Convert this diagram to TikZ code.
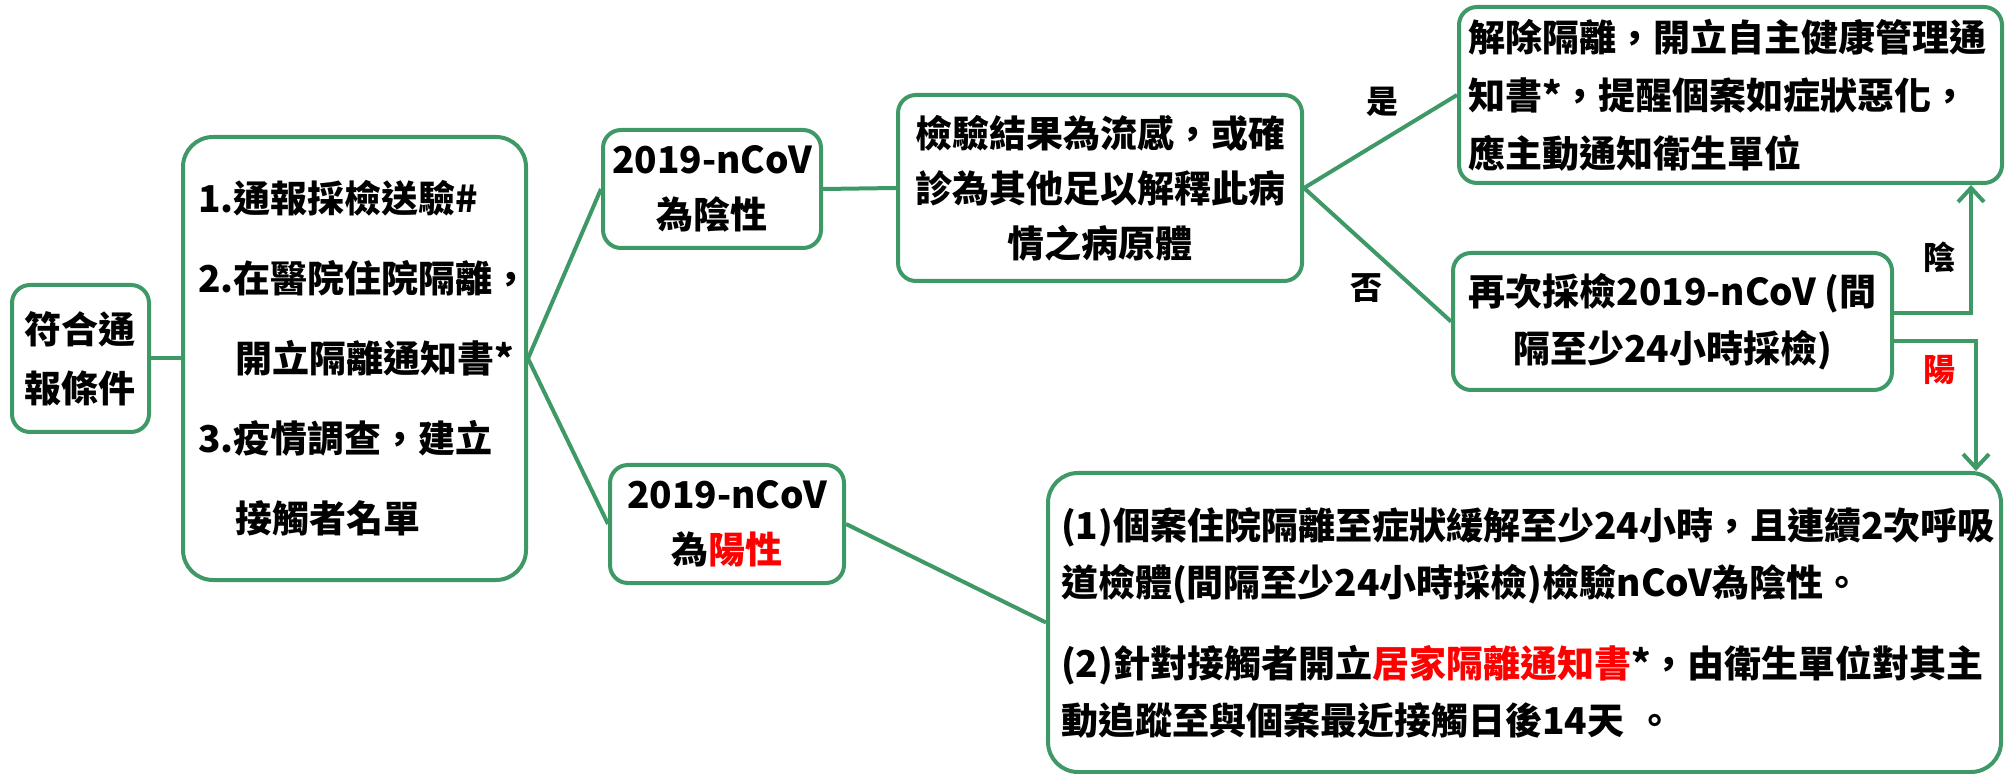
\documentclass[tikz,border=0pt]{standalone}
\usepackage{fontspec}
\setmainfont{Noto Sans CJK TC}
\usetikzlibrary{arrows.meta}
\definecolor{grn}{RGB}{62,153,103}
\definecolor{rd}{RGB}{255,0,0}
\newcommand{\fnt}[1]{\bfseries\fontsize{18.5}{#1}\selectfont}
\begin{document}
\begin{tikzpicture}[x=0.5pt,y=-0.5pt,
  box/.style={draw=grn, line width=2pt, rounded corners=9pt, inner sep=0pt, fill=white},
  conn/.style={draw=grn, line width=2pt},
  arr/.style={conn, -{Straight Barb[length=7pt,width=13pt,line width=2pt]}},
  lbl/.style={font=\bfseries\fontsize{16}{16}\selectfont}]
\useasboundingbox (0,0) rectangle (2011,774);

\node[box, minimum width=68.5pt, minimum height=73.5pt, align=center, font=\fnt{29.5}] (A) at (80.5,358.5) {符合通\\報條件};

\node[box, rounded corners=15pt, minimum height=221.5pt, text width=156.5pt, inner xsep=7.5pt, align=left, font=\fnt{40}] (B) at (354.5,358.5)
 {1.通報採檢送驗\#\\2.在醫院住院隔離，\\\hspace*{1em}開立隔離通知書*\\3.疫情調查，建立\\\hspace*{1em}接觸者名單};

\node[box, minimum width=109pt, minimum height=59pt, align=center, font=\fnt{27.5}] (C) at (712,189) {2019-nCoV\\為陰性};

\node[box, minimum width=117pt, minimum height=59pt, align=center, font=\fnt{27.5}] (D) at (727,524) {2019-nCoV\\為\textcolor{rd}{陽性}};

\node[box, minimum width=202pt, minimum height=93pt, align=center, font=\fnt{27.5}] (E) at (1100,188) {檢驗結果為流感，或確\\診為其他足以解釋此病\\情之病原體};

\node[box, text width=262.5pt, inner xsep=4.5pt, minimum height=88pt, align=left, font=\fnt{29}] (F) at (1730.5,95) {解除隔離，開立自主健康管理通\\知書*，提醒個案如症狀惡化，\\應主動通知衛生單位};

\node[box, minimum width=219.5pt, minimum height=68.5pt, align=center, font=\fnt{28.5}] (G) at (1672.5,321.5) {再次採檢2019-nCoV (間\\隔至少24小時採檢)};

\node[box, rounded corners=15pt, text width=463.5pt, inner xsep=6.5pt, minimum height=149.5pt, align=left, font=\fnt{28.5}] (H) at (1524.5,622.5)
 {(1)個案住院隔離至症狀緩解至少24小時，且連續2次呼吸\\道檢體(間隔至少24小時採檢)檢驗nCoV為陰性。\\[12pt](2)針對接觸者開立\textcolor{rd}{居家隔離通知書}*，由衛生單位對其主\\動追蹤至與個案最近接觸日後14天 。};

\draw[conn] (A) -- (B);
\draw[conn] (B.east) -- (C.west);
\draw[conn] (B.east) -- (D.west);
\draw[conn] (C.east) -- (E.west);
\draw[conn] (E.east) -- (F.west);
\draw[conn] (E.east) -- (G.west);
\draw[conn] (D.east) -- (H.west);

\node[lbl] (yes) at (1382,102) {是};
\node[lbl] (no) at (1366,288) {否};
\node[lbl] (neg) at (1939,257) {陰};
\node[lbl, text=rd] (pos) at (1939,370) {陽};

\coordinate (yin) at (1971,313);
\coordinate (yang) at (1976,341);
\draw[arr] (G.east |- yin) -- (yin) -- (yin |- F.south);
\draw[arr] (G.east |- yang) -- (yang) -- (yang |- H.north);
\end{tikzpicture}
\end{document}
